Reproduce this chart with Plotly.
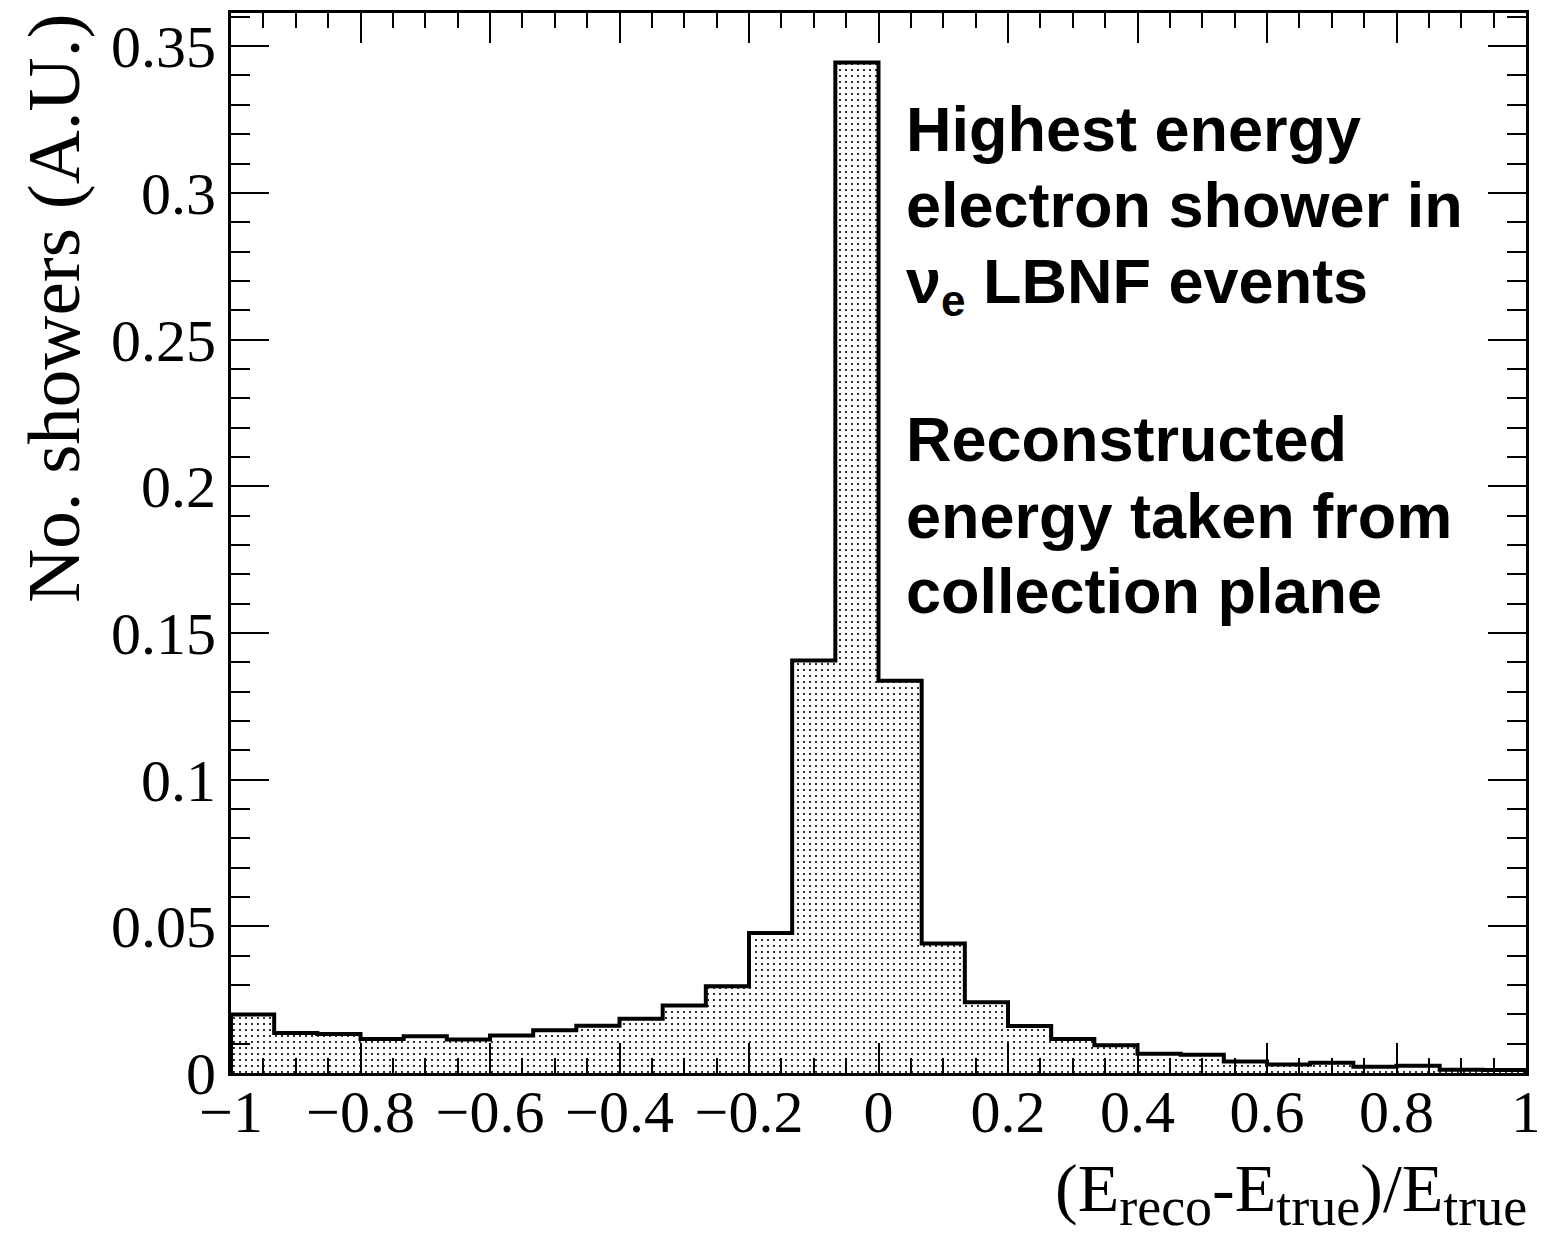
import numpy as np
import plotly.graph_objects as go

# ---- data ----
n_bins = 30
x_low, x_high = -1.0, 1.0
counts = [0.0199, 0.0136, 0.0133, 0.0116, 0.0125, 0.0114, 0.0128, 0.0146, 0.0161, 0.0185,
          0.0230, 0.0296, 0.0477, 0.1406, 0.3444, 0.1337, 0.0441, 0.0241, 0.0160, 0.0116,
          0.0095, 0.0066, 0.0062, 0.0039, 0.0029, 0.0035, 0.0021, 0.0025, 0.0011, 0.0010]
x_ticks = [-1, -0.8, -0.6, -0.4, -0.2, 0, 0.2, 0.4, 0.6, 0.8, 1]
y_ticks = [0, 0.05, 0.1, 0.15, 0.2, 0.25, 0.3, 0.35]
text_lines = ["Highest energy", "electron shower in", "ν<sub>e</sub> LBNF events", "",
              "Reconstructed", "energy taken from", "collection plane"]
SUB = '<sub><span style="font-size:54px">{}</span></sub>'
x_title = "(E" + SUB.format("reco") + "-E" + SUB.format("true") + ")/E" + SUB.format("true")
y_title = "No. showers (A.U.)"

edges = np.linspace(x_low, x_high, n_bins + 1)
centers = 0.5 * (edges[:-1] + edges[1:])
width = edges[1] - edges[0]

# ---- layout geometry (viewport pixels; page body has an 8px margin) ----
OFF = 8
W, H = 1545 - OFF, 1244 - OFF
L, R, T, B = 231, 1526, 13, 1073
pw, ph = R - L, B - T

def px(x):
    return (x - L) / pw

def py(y):
    return (B - y) / ph

fig = go.Figure()
fig.add_trace(go.Bar(
    x=centers, y=counts, width=width,
    marker=dict(color="white", line=dict(width=0),
                pattern=dict(shape=".", fgcolor="black", bgcolor="white",
                             size=6, solidity=0.1, fillmode="replace")),
    showlegend=False, hoverinfo="skip"))

step_x = [x_low] + list(edges) + [x_high]
step_y = [0] + list(counts) + [counts[-1], 0]
fig.add_trace(go.Scatter(x=step_x, y=step_y, mode="lines",
                         line=dict(color="black", width=4, shape="hv"),
                         showlegend=False, hoverinfo="skip"))

serif = "Liberation Serif, Times New Roman, serif"
sans = "Liberation Sans, Arial, sans-serif"

common_axis = dict(showline=True, mirror="allticks", linecolor="black", linewidth=3,
                   ticks="inside", tickcolor="black", tickwidth=2,
                   showgrid=False, zeroline=False, automargin=False,
                   tickfont=dict(family=serif, size=60, color="black"))

fig.update_xaxes(range=[x_low, x_high], tickvals=x_ticks, ticklen=30,
                 minor=dict(dtick=0.05, tick0=-1, ticklen=15, tickwidth=2,
                            tickcolor="black", ticks="inside", showgrid=False),
                 ticklabelstandoff=-16, **common_axis)
fig.update_yaxes(range=[0, 0.3613], tickvals=y_ticks, ticklen=38,
                 minor=dict(dtick=0.01, tick0=0, ticklen=19, tickwidth=2,
                            tickcolor="black", ticks="inside", showgrid=False),
                 ticklabelstandoff=0, **common_axis)

annotations = []
tops = [93, 169, 245, None, 403, 480, 555]
for line, top in zip(text_lines, tops):
    if not line:
        continue
    annotations.append(dict(text="<b>" + line + "</b>", xref="paper", yref="paper",
                            x=px(905), y=py(top), xanchor="left", yanchor="top",
                            showarrow=False, borderpad=0,
                            font=dict(family=sans, size=63, color="black")))
annotations.append(dict(text=x_title, xref="paper", yref="paper",
                        x=px(1528), y=py(1149), xanchor="right", yanchor="top",
                        showarrow=False, borderpad=0,
                        font=dict(family=serif, size=68, color="black")))
annotations.append(dict(text=y_title, xref="paper", yref="paper",
                        x=px(54), y=py(12), xanchor="center", yanchor="top",
                        textangle=-90, showarrow=False, borderpad=0,
                        font=dict(family=serif, size=75, color="black")))

fig.update_layout(width=W, height=H, autosize=False,
                  margin=dict(l=L - OFF, r=W - (R - OFF), t=T - OFF, b=H - (B - OFF), pad=0),
                  paper_bgcolor="white", plot_bgcolor="white",
                  bargap=0, annotations=annotations)

fig.write_html("out.html")
